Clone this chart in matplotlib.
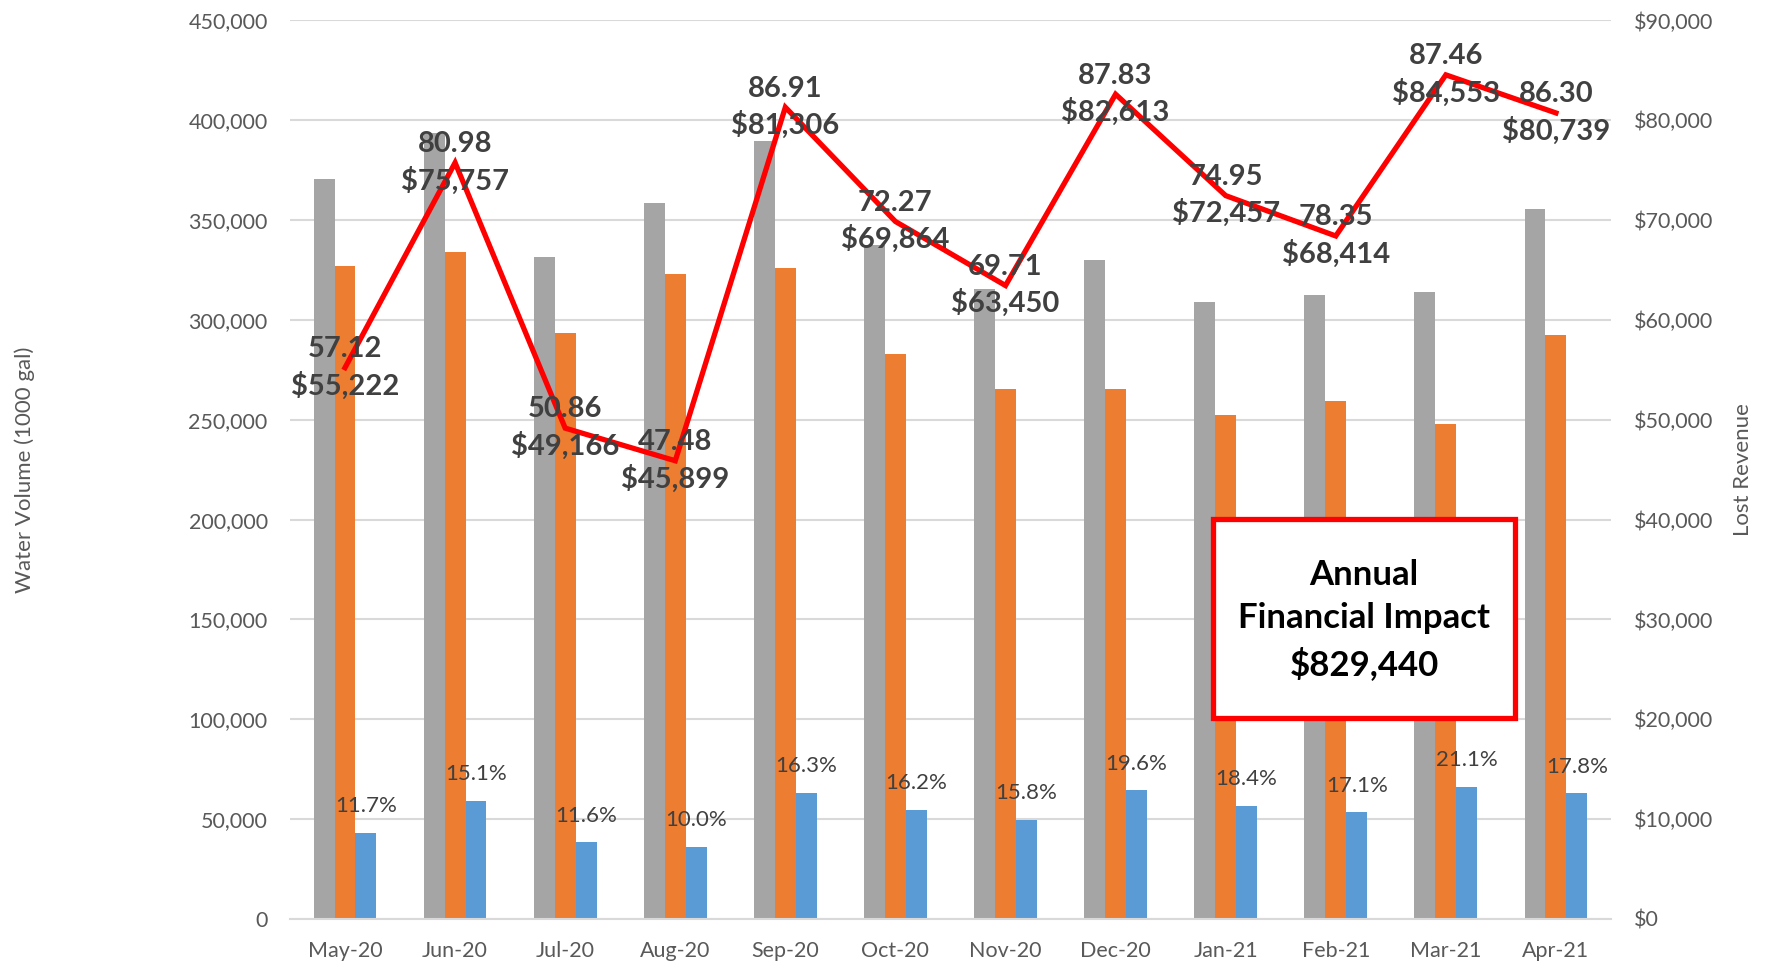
import matplotlib.pyplot as plt
import numpy as np
from matplotlib.patches import Rectangle
from matplotlib.ticker import FuncFormatter

plt.rcParams['font.family'] = ['Lato', 'DejaVu Sans']

months = ['May-20', 'Jun-20', 'Jul-20', 'Aug-20', 'Sep-20', 'Oct-20',
          'Nov-20', 'Dec-20', 'Jan-21', 'Feb-21', 'Mar-21', 'Apr-21']
# water volumes (1000 gal)
produced = [370400, 393600, 331700, 358700, 389800, 337500,
            315300, 330000, 308800, 312700, 314000, 355600]
billed = [327200, 334200, 293600, 322900, 326200, 283000,
          265400, 265400, 252200, 259300, 247900, 292500]
lost = [43200, 59100, 38400, 36100, 63200, 54800,
        49700, 64400, 56600, 53400, 66100, 62900]
lost_pct = ['11.7%', '15.1%', '11.6%', '10.0%', '16.3%', '16.2%',
            '15.8%', '19.6%', '18.4%', '17.1%', '21.1%', '17.8%']
# lost revenue and the second label number
revenue = [55222, 75757, 49166, 45899, 81306, 69864,
           63450, 82613, 72457, 68414, 84553, 80739]
rate = ['57.12', '80.98', '50.86', '47.48', '86.91', '72.27',
        '69.71', '87.83', '74.95', '78.35', '87.46', '86.30']

c_gray = '#A5A5A5'
c_orange = '#ED7D31'
c_blue = '#5B9BD5'
c_text = '#595959'
c_grid = '#D9D9D9'

fig = plt.figure(figsize=(17.67, 9.66), dpi=100)
ax = fig.add_axes([0.1641, 0.0487, 0.7476, 0.9301])
x = np.arange(len(months))
w = 0.19

ax.bar(x - w, produced, w, color=c_gray, zorder=2)
ax.bar(x, billed, w, color=c_orange, zorder=2)
ax.bar(x + w, lost, w, color=c_blue, zorder=2)
for i in range(len(months)):
    ax.annotate(lost_pct[i], (x[i] + w, lost[i]), xytext=(0, 12),
                textcoords='offset points', ha='center', va='bottom',
                fontsize=16, color='#404040', zorder=3)

ax.set_xlim(-0.5, len(months) - 0.5)
ax.set_ylim(0, 450000)
ax.set_yticks(np.arange(0, 450001, 50000))
ax.yaxis.set_major_formatter(FuncFormatter(lambda v, p: '{:,.0f}'.format(v)))
ax.set_xticks(x)
ax.set_xticklabels(months)
ax.yaxis.grid(True, color=c_grid, lw=1.5, zorder=0)
ax.set_axisbelow(True)
for s in ['top', 'right', 'left']:
    ax.spines[s].set_visible(False)
ax.spines['bottom'].set_color(c_grid)
ax.spines['bottom'].set_linewidth(1.5)
ax.tick_params(axis='both', length=0, labelsize=15.5, labelcolor=c_text)
ax.tick_params(axis='y', pad=16)
ax.tick_params(axis='x', pad=16)
ax.set_ylabel('Water Volume (1000 gal)', fontsize=16, color=c_text)
ax.yaxis.set_label_coords(-0.193, 0.5)

ax2 = ax.twinx()
ax2.plot(x, revenue, color='#FF0000', lw=3.8, zorder=4, solid_joinstyle='miter')
for i in range(len(months)):
    ax2.annotate('{}\n${:,}'.format(rate[i], revenue[i]), (x[i], revenue[i]),
                 ha='center', va='center', fontsize=21, fontweight='bold',
                 color='#404040', linespacing=1.4, zorder=5)
ax2.set_ylim(0, 90000)
ax2.set_yticks(np.arange(0, 90001, 10000))
ax2.yaxis.set_major_formatter(FuncFormatter(lambda v, p: '${:,.0f}'.format(v)))
for s in ['top', 'right', 'left', 'bottom']:
    ax2.spines[s].set_visible(False)
ax2.tick_params(axis='y', length=0, labelsize=15.5, labelcolor=c_text, pad=16.5)
ax2.set_ylabel('Lost Revenue', fontsize=16, color=c_text)
ax2.yaxis.set_label_coords(1.092, 0.5)

# annual total box
ax2.add_patch(Rectangle((0.6987, 0.2237), 0.2286, 0.2215, transform=ax2.transAxes,
                        facecolor='white', edgecolor='#FF0000', lw=3.8, zorder=6))
ax2.text(0.813, 0.333, 'Annual\nFinancial Impact\n${:,}'.format(sum(revenue)),
         transform=ax2.transAxes, ha='center', va='center', fontsize=25,
         fontweight='bold', color='black', linespacing=1.45, zorder=7)

plt.savefig('out.png', dpi=100)
